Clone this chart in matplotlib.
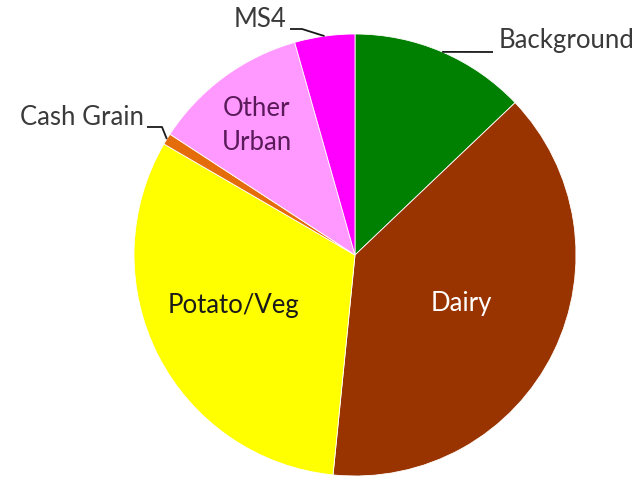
import numpy as np
import matplotlib
matplotlib.use("Agg")
import matplotlib.pyplot as plt

categories = ["Background", "Dairy", "Potato/Veg", "Cash Grain", "Other Urban", "MS4"]
values = [12.9, 38.7, 31.8, 0.83, 11.4, 4.4]
colors = ["#008000", "#993300", "#FFFF00", "#E46C0A", "#FF99FF", "#FF00FF"]

plt.rcParams['font.family'] = ['Lato', 'DejaVu Sans']

W, H = 642, 479
cx, cy, R = 355, 255, 221
fig = plt.figure(figsize=(W / 100, H / 100), dpi=100)
ax = fig.add_axes([0, 0, 1, 1])

wedges, _ = ax.pie(values, colors=colors, startangle=90, counterclock=False,
                   radius=1, center=(0, 0), frame=True,
                   wedgeprops=dict(linewidth=0.6, edgecolor='white'))
ax.set_xlim(-cx / R, (W - cx) / R)
ax.set_ylim(-(H - cy) / R, cy / R)
ax.set_aspect('auto')
ax.axis('off')

def px(x, y):
    return ((x - cx) / R, (cy - y) / R)

def edge(w):
    a = np.deg2rad((w.theta1 + w.theta2) / 2)
    return (np.cos(a), np.sin(a))

fs = 18.5
tc = '#3a3a3a'
# inside labels
ax.text(*px(257, 126), "Other\nUrban", ha='center', va='center', fontsize=fs,
        color='#5A1A5A', linespacing=1.45)
ax.text(*px(233, 306), "Potato/Veg", ha='center', va='center', fontsize=fs, color='#1a1a1a')
ax.text(*px(461, 304), "Dairy", ha='center', va='center', fontsize=fs, color='white')

lk = dict(color='#1a1a1a', lw=1.3, solid_capstyle='butt')

def leader(w, pts):
    e = edge(w)
    xs = [e[0]] + [px(*p)[0] for p in pts]
    ys = [e[1]] + [px(*p)[1] for p in pts]
    ax.plot(xs, ys, **lk)

# Background
ax.text(*px(499, 48), "Background", ha='left', va='baseline', fontsize=fs, color=tc)
leader(wedges[0], [(493, 52)])
# MS4
ax.text(*px(286, 27), "MS4", ha='right', va='baseline', fontsize=fs, color=tc)
leader(wedges[5], [(302, 29), (290, 29)])
# Cash Grain
ax.text(*px(144, 125), "Cash Grain", ha='right', va='baseline', fontsize=fs, color=tc)
leader(wedges[3], [(162, 127), (147, 127)])

fig.savefig("out.png", dpi=100, facecolor='white')
